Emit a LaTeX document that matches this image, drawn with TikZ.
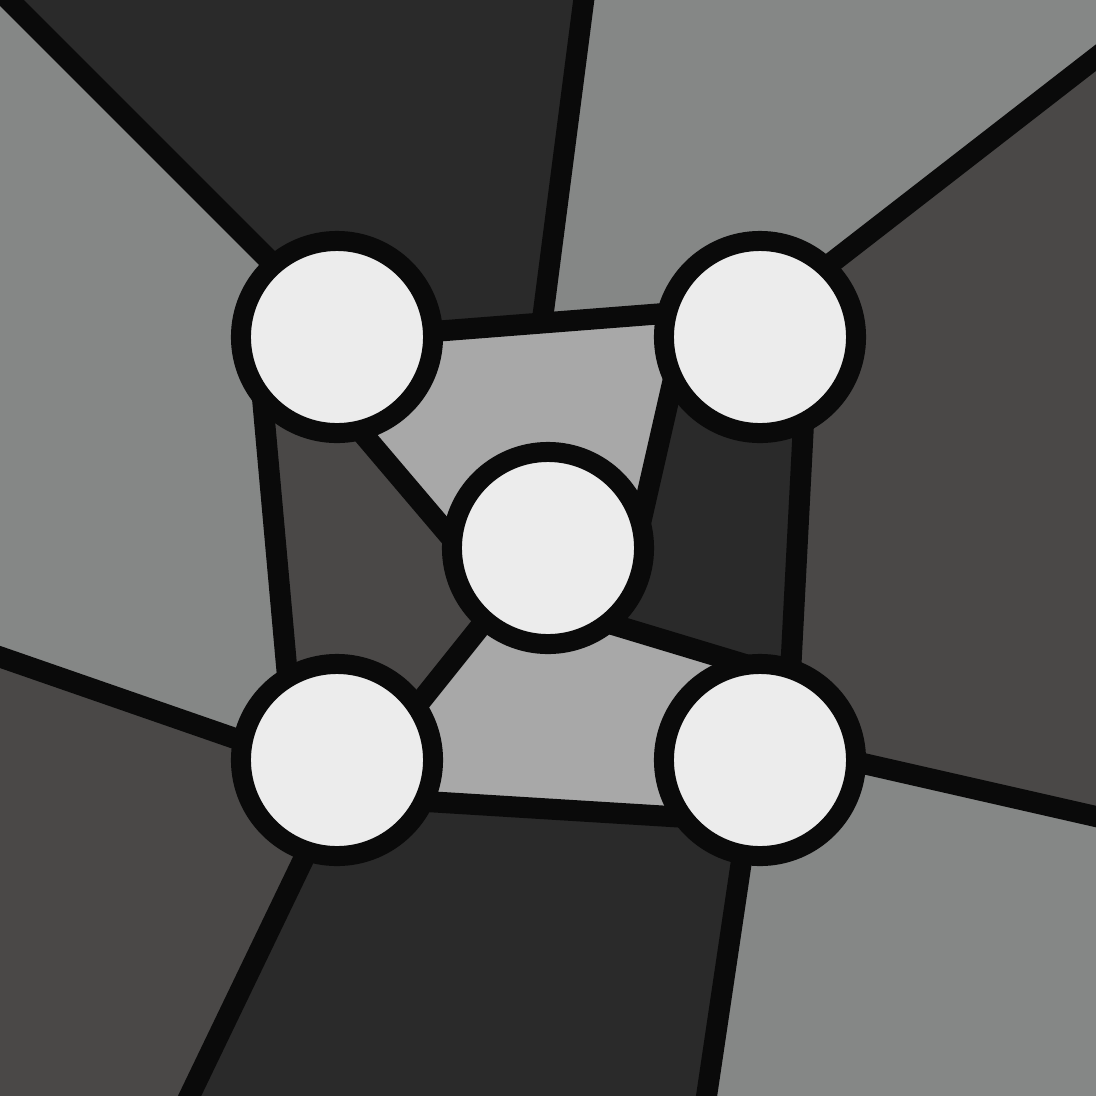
\documentclass[tikz,border=0pt]{standalone}
\usepackage{tikz}
\definecolor{paneLight}{HTML}{858786}
\definecolor{paneMid}{HTML}{A8A8A8}
\definecolor{paneDark}{HTML}{2A2A2A}
\definecolor{paneSlate}{HTML}{4A4847}
\definecolor{leadBlack}{HTML}{0A0A0A}
\definecolor{glassWhite}{HTML}{ECECEC}
\begin{document}
\begin{tikzpicture}[
            x=0.01cm, y=-0.01cm,
            lead/.style={draw=leadBlack, line width=0.21cm, line join=round},
            jewel/.style={circle, draw=leadBlack, fill=glassWhite, line width=0.2cm, minimum size=1.92cm, inner sep=0pt}
        ]
        \useasboundingbox (0,0) rectangle (1096,1096);
        \clip (0,0) rectangle (1096,1096);
        \fill[leadBlack] (0,0) rectangle (1096,1096);

        % ends of the leads
        \coordinate (nwOut) at (-20,-29);   \coordinate (nwIn) at (330,321);
        \coordinate (nOut) at (587,-25);    \coordinate (nIn) at (542,323);
        \coordinate (topL) at (337,339);    \coordinate (topR) at (760,306);
        \coordinate (neOut) at (1120,39);   \coordinate (neIn) at (790,295);
        \coordinate (rightT) at (808,337);  \coordinate (rightB) at (786,760);
        \coordinate (eOut) at (1120,822);   \coordinate (eIn) at (760,740);
        \coordinate (seOut) at (703,1120);  \coordinate (seIn) at (752,790);
        \coordinate (botL) at (337,796);    \coordinate (botR) at (760,822);
        \coordinate (swOut) at (178,1120);  \coordinate (swIn) at (332,800);
        \coordinate (wOut) at (-20,650);    \coordinate (wIn) at (300,761);
        \coordinate (leftT) at (257,337);   \coordinate (leftB) at (295,760);
        \coordinate (hubNW1) at (340,407);  \coordinate (hubNW2) at (470,560);
        \coordinate (hubSW1) at (400,727);  \coordinate (hubSW2) at (500,602);
        \coordinate (hubNE1) at (683,337);  \coordinate (hubNE2) at (631,565);
        \coordinate (hubSE1) at (548,605);  \coordinate (hubSE2) at (780,675);

        % panes
        \fill[paneDark] (nwOut) -- (nOut) -- (nIn) -- (topL) -- (nwIn) -- cycle;
        \fill[paneLight] (nOut) -- (1130,-30) -- (neOut) -- (neIn) -- (topR) -- (nIn) -- cycle;
        \fill[paneSlate] (neOut) -- (eOut) -- (eIn) -- (rightB) -- (rightT) -- (neIn) -- cycle;
        \fill[paneLight] (eOut) -- (1130,1130) -- (seOut) -- (seIn) -- (eIn) -- cycle;
        \fill[paneDark] (seOut) -- (swOut) -- (swIn) -- (botL) -- (botR) -- (seIn) -- cycle;
        \fill[paneSlate] (swOut) -- (-30,1130) -- (wOut) -- (wIn) -- (swIn) -- cycle;
        \fill[paneLight] (wOut) -- (nwOut) -- (nwIn) -- (leftT) -- (leftB) -- (wIn) -- cycle;
        \fill[paneMid] (topL) -- (topR) -- (hubNE1) -- (hubNE2) -- (hubNW2) -- (hubNW1) -- cycle;
        \fill[paneDark] (rightT) -- (rightB) -- (hubSE2) -- (hubSE1) -- (hubNE2) -- (hubNE1) -- cycle;
        \fill[paneMid] (botL) -- (hubSW1) -- (hubSW2) -- (hubSE1) -- (hubSE2) -- (botR) -- cycle;
        \fill[paneSlate] (leftT) -- (hubNW1) -- (hubNW2) -- (hubSW2) -- (hubSW1) -- (leftB) -- cycle;

        % leads
        \draw[lead] (nwOut) -- (nwIn);
        \draw[lead] (nOut) -- (nIn);
        \draw[lead] (topL) -- (topR);
        \draw[lead] (neOut) -- (neIn);
        \draw[lead] (rightT) -- (rightB);
        \draw[lead] (eOut) -- (eIn);
        \draw[lead] (seOut) -- (seIn);
        \draw[lead] (botL) -- (botR);
        \draw[lead] (swOut) -- (swIn);
        \draw[lead] (wOut) -- (wIn);
        \draw[lead] (leftT) -- (leftB);
        \draw[lead] (hubNW1) -- (hubNW2);
        \draw[lead] (hubSW1) -- (hubSW2);
        \draw[lead] (hubNE1) -- (hubNE2);
        \draw[lead] (hubSE1) -- (hubSE2);

        \node[jewel] (nw) at (337,337) {};
        \node[jewel] (ne) at (760,337) {};
        \node[jewel] (hub) at (548,548) {};
        \node[jewel] (sw) at (337,760) {};
        \node[jewel] (se) at (760,760) {};
        \end{tikzpicture}
\end{document}
